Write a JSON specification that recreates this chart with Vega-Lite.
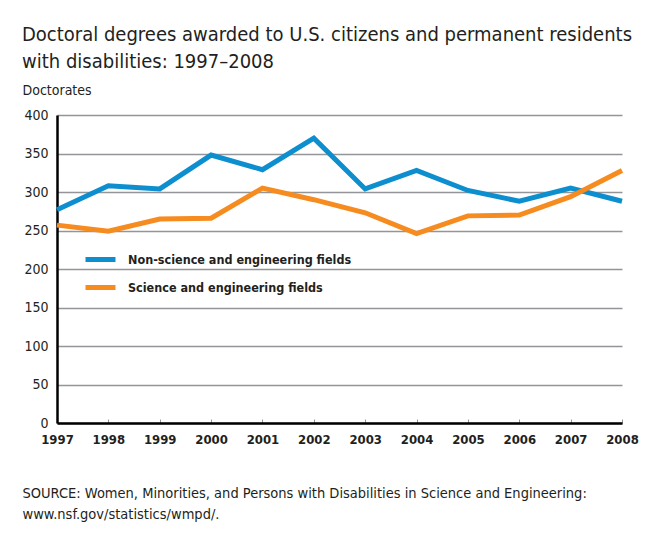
{
  "$schema": "https://vega.github.io/schema/vega-lite/v6.json",
  "width": 565,
  "height": 308,
  "autosize": {"type": "none"},
  "padding": {"left": 57, "top": 115, "right": 30, "bottom": 113},
  "background": "white",
  "title": {
    "text": ["Doctoral degrees awarded to U.S. citizens and permanent residents", "with disabilities: 1997\u20132008"],
    "anchor": "start",
    "frame": "group",
    "dx": -35,
    "font": "DejaVu Sans Condensed",
    "fontSize": 20,
    "fontWeight": 500,
    "color": "#231f20",
    "lineHeight": 27,
    "offset": 11
  },
  "data": {
    "values": [
      {"year": 1997, "series": "Non-science and engineering fields", "doctorates": 277},
      {"year": 1998, "series": "Non-science and engineering fields", "doctorates": 308},
      {"year": 1999, "series": "Non-science and engineering fields", "doctorates": 304},
      {"year": 2000, "series": "Non-science and engineering fields", "doctorates": 348},
      {"year": 2001, "series": "Non-science and engineering fields", "doctorates": 329},
      {"year": 2002, "series": "Non-science and engineering fields", "doctorates": 370},
      {"year": 2003, "series": "Non-science and engineering fields", "doctorates": 304},
      {"year": 2004, "series": "Non-science and engineering fields", "doctorates": 328},
      {"year": 2005, "series": "Non-science and engineering fields", "doctorates": 302},
      {"year": 2006, "series": "Non-science and engineering fields", "doctorates": 288},
      {"year": 2007, "series": "Non-science and engineering fields", "doctorates": 305},
      {"year": 2008, "series": "Non-science and engineering fields", "doctorates": 288},
      {"year": 1997, "series": "Science and engineering fields", "doctorates": 257},
      {"year": 1998, "series": "Science and engineering fields", "doctorates": 249},
      {"year": 1999, "series": "Science and engineering fields", "doctorates": 265},
      {"year": 2000, "series": "Science and engineering fields", "doctorates": 266},
      {"year": 2001, "series": "Science and engineering fields", "doctorates": 305},
      {"year": 2002, "series": "Science and engineering fields", "doctorates": 290},
      {"year": 2003, "series": "Science and engineering fields", "doctorates": 273},
      {"year": 2004, "series": "Science and engineering fields", "doctorates": 246},
      {"year": 2005, "series": "Science and engineering fields", "doctorates": 269},
      {"year": 2006, "series": "Science and engineering fields", "doctorates": 270},
      {"year": 2007, "series": "Science and engineering fields", "doctorates": 294},
      {"year": 2008, "series": "Science and engineering fields", "doctorates": 328}
    ]
  },
  "mark": {"type": "line", "strokeWidth": 5, "strokeJoin": "miter", "strokeCap": "butt"},
  "encoding": {
    "x": {
      "field": "year",
      "type": "quantitative",
      "scale": {"domain": [1997, 2008], "nice": false, "zero": false},
      "axis": {
        "values": [1997, 1998, 1999, 2000, 2001, 2002, 2003, 2004, 2005, 2006, 2007, 2008],
        "format": "d",
        "grid": false,
        "domainColor": "#000000",
        "domainWidth": 2.5,
        "tickSize": -4,
        "tickColor": "#939598",
        "tickWidth": 1,
        "labelPadding": 14,
        "labelFont": "DejaVu Sans Condensed",
        "labelFontWeight": "bold",
        "labelFontSize": 13,
        "labelColor": "#231f20",
        "labelFlush": false,
        "title": ["SOURCE:  Women, Minorities, and Persons with Disabilities in Science and Engineering:", "www.nsf.gov/statistics/wmpd/."],
        "titleFont": "DejaVu Sans Condensed",
        "titleFontWeight": "normal",
        "titleFontSize": 14.5,
        "titleColor": "#231f20",
        "titleAnchor": "start",
        "titleAlign": "left",
        "titleBaseline": "middle",
        "titleX": -35,
        "titleY": 70,
        "titleLineHeight": 21
      }
    },
    "y": {
      "field": "doctorates",
      "type": "quantitative",
      "scale": {"domain": [0, 400], "nice": false},
      "axis": {
        "values": [0, 50, 100, 150, 200, 250, 300, 350, 400],
        "ticks": false,
        "domainColor": "#000000",
        "domainWidth": 2.5,
        "gridColor": "#939598",
        "gridWidth": 1.5,
        "gridOpacity": 1,
        "labelPadding": 9,
        "labelFont": "DejaVu Sans Condensed",
        "labelFontSize": 14,
        "labelColor": "#231f20",
        "labelFlush": false,
        "title": "Doctorates",
        "titleFont": "DejaVu Sans Condensed",
        "titleFontWeight": "normal",
        "titleFontSize": 14,
        "titleColor": "#231f20",
        "titleAngle": 0,
        "titleAlign": "left",
        "titleBaseline": "middle",
        "titleX": -35,
        "titleY": -25
      }
    },
    "color": {
      "field": "series",
      "type": "nominal",
      "scale": {
        "domain": ["Non-science and engineering fields", "Science and engineering fields"],
        "range": ["#0d8ecf", "#f68b1f"]
      },
      "legend": {
        "title": null,
        "orient": "none",
        "legendX": 26,
        "legendY": 127,
        "symbolType": "stroke",
        "symbolSize": 900,
        "symbolStrokeWidth": 5,
        "labelFont": "DejaVu Sans Condensed",
        "labelFontWeight": "bold",
        "labelFontSize": 12.5,
        "labelColor": "#231f20",
        "labelLimit": 0,
        "labelOffset": 10,
        "rowPadding": -4,
        "padding": 0
      }
    }
  },
  "config": {
    "view": {"stroke": null}
  }
}
